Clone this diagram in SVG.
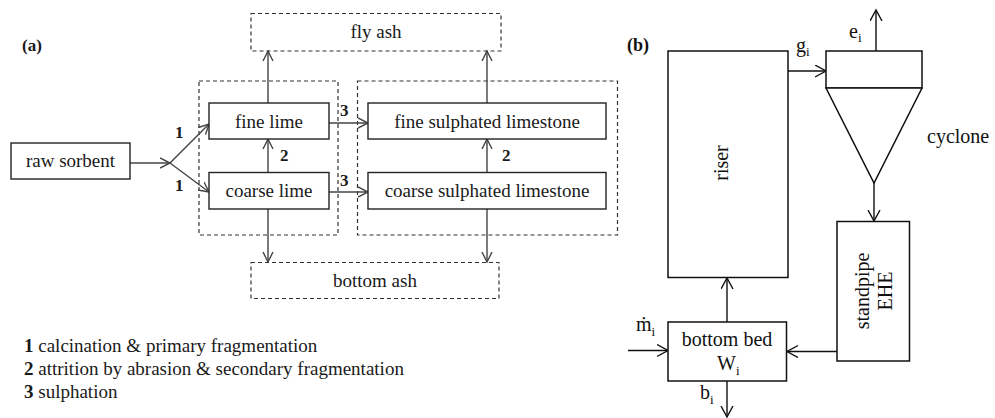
<svg xmlns="http://www.w3.org/2000/svg" width="995" height="418" viewBox="0 0 995 418">
<style>
text{font-family:"Liberation Serif","Times New Roman","DejaVu Serif",serif}
.a{font-size:19px;fill:#1a1a1a}
.b{font-size:20px;fill:#111}
.num{font-size:17px;font-weight:bold;fill:#1a1a1a}
.sub{font-size:13px}
.box{fill:#fff;stroke:#222;stroke-width:1.4}
.dash{fill:none;stroke:#333;stroke-width:1.2;stroke-dasharray:4,3}
.la{stroke:#444;stroke-width:1.4;fill:none;marker-end:url(#ha)}
.lb{stroke:#111;stroke-width:1.4;fill:none;marker-end:url(#hb)}
.bb{fill:#fff;stroke:#111;stroke-width:1.5}
</style>
<defs>
<marker id="ha" markerUnits="userSpaceOnUse" markerWidth="14" markerHeight="14" refX="10" refY="6" orient="auto" viewBox="0 0 14 14">
<path d="M0,1 L10,6 L0,11" fill="none" stroke="#444" stroke-width="1.4"/>
</marker>
<marker id="hb" markerUnits="userSpaceOnUse" markerWidth="14" markerHeight="14" refX="11" refY="6.5" orient="auto" viewBox="0 0 14 14">
<path d="M0,0.5 L11,6.5 L0,12.5" fill="none" stroke="#111" stroke-width="1.4"/>
</marker>
</defs>
<rect width="995" height="418" fill="#fff"/>

<text x="22" y="51" font-size="17" font-weight="bold" fill="#1a1a1a">(a)</text>
<text x="627" y="51" font-size="18" font-weight="bold" fill="#111">(b)</text>

<g id="lime-group"><rect class="dash" x="199" y="81" width="139" height="154"/></g>
<g id="sulph-group"><rect class="dash" x="357.5" y="81" width="260" height="154"/></g>

<g id="connectors">
<line class="la" x1="130" y1="163" x2="170" y2="163"/>
<line class="la" x1="170" y1="163" x2="209" y2="124"/>
<line class="la" x1="170" y1="163" x2="209" y2="192"/>
<line class="la" x1="268" y1="172" x2="268" y2="139"/>
<line class="la" x1="268" y1="103" x2="268" y2="51"/>
<line class="la" x1="268" y1="209" x2="268" y2="262"/>
<line class="la" x1="329" y1="123" x2="368" y2="123"/>
<line class="la" x1="329" y1="192" x2="368" y2="192"/>
<line class="la" x1="487" y1="172" x2="487" y2="139"/>
<line class="la" x1="487" y1="103" x2="487" y2="51"/>
<line class="la" x1="487" y1="209" x2="487" y2="262"/>
<text class="num" x="175" y="138">1</text>
<text class="num" x="175" y="191">1</text>
<text class="num" x="280" y="161">2</text>
<text class="num" x="340" y="116">3</text>
<text class="num" x="340" y="186">3</text>
<text class="num" x="502" y="161">2</text>

<line class="lb" x1="788" y1="71" x2="826" y2="71"/>
<line class="lb" x1="876" y1="51" x2="876" y2="10"/>
<line class="lb" x1="874" y1="183" x2="874" y2="221"/>
<line class="lb" x1="837" y1="351.5" x2="787" y2="351.5"/>
<line class="lb" x1="727" y1="322" x2="727" y2="278"/>
<line class="lb" x1="628" y1="350.5" x2="668" y2="350.5"/>
<line class="lb" x1="727" y1="381" x2="727" y2="417"/>
<text class="b" x="796" y="52">g<tspan class="sub" dy="4">i</tspan></text>
<text class="b" x="849" y="38">e<tspan class="sub" dy="4">i</tspan></text>
<text class="b" x="636" y="331">ṁ<tspan class="sub" dy="5">i</tspan></text>
<text class="b" x="700" y="399">b<tspan class="sub" dy="5">i</tspan></text>
</g>

<g id="raw-sorbent"><rect class="box" x="11" y="143" width="119" height="36"/><text class="a" x="70.5" y="167" text-anchor="middle">raw sorbent</text></g>
<g id="fine-lime"><rect class="box" x="209" y="103" width="120" height="36"/><text class="a" x="269" y="128" text-anchor="middle">fine lime</text></g>
<g id="coarse-lime"><rect class="box" x="209" y="172.5" width="120" height="36.5"/><text class="a" x="269" y="197" text-anchor="middle">coarse lime</text></g>
<g id="fine-sulph"><rect class="box" x="368" y="103" width="238" height="36"/><text class="a" x="487" y="128" text-anchor="middle">fine sulphated limestone</text></g>
<g id="coarse-sulph"><rect class="box" x="368" y="172.5" width="238" height="36.5"/><text class="a" x="487" y="197" text-anchor="middle">coarse sulphated limestone</text></g>
<g id="fly-ash"><rect class="dash" x="251" y="13.5" width="250" height="37.5"/><text class="a" x="376" y="38" text-anchor="middle">fly ash</text></g>
<g id="bottom-ash"><rect class="dash" x="251" y="262.5" width="248" height="36"/><text class="a" x="375" y="287" text-anchor="middle">bottom ash</text></g>

<g id="legend">
<text class="a" x="24" y="352"><tspan font-weight="bold">1</tspan> calcination &amp; primary fragmentation</text>
<text class="a" x="24" y="375"><tspan font-weight="bold">2</tspan> attrition by abrasion &amp; secondary fragmentation</text>
<text class="a" x="24" y="398"><tspan font-weight="bold">3</tspan> sulphation</text>
</g>

<g id="riser"><rect class="bb" x="668" y="51" width="120" height="226.5"/><text class="b" transform="translate(728,163) rotate(-90)" text-anchor="middle">riser</text></g>
<g id="cyclone"><rect class="bb" x="826" y="51" width="96" height="37"/><path class="bb" d="M826,88 L922,88 L874,183 Z"/><text class="b" x="927" y="143">cyclone</text></g>
<g id="standpipe"><rect class="bb" x="837" y="221.5" width="72.5" height="139.5"/><text class="b" transform="translate(869,291) rotate(-90)" text-anchor="middle">standpipe</text><text class="b" transform="translate(892,291) rotate(-90)" text-anchor="middle">EHE</text></g>
<g id="bottom-bed"><rect class="bb" x="668" y="322" width="118.5" height="59"/><text class="b" x="727" y="346" text-anchor="middle">bottom bed</text><text class="b" x="717" y="370">W<tspan class="sub" dy="5">i</tspan></text></g>
</svg>
